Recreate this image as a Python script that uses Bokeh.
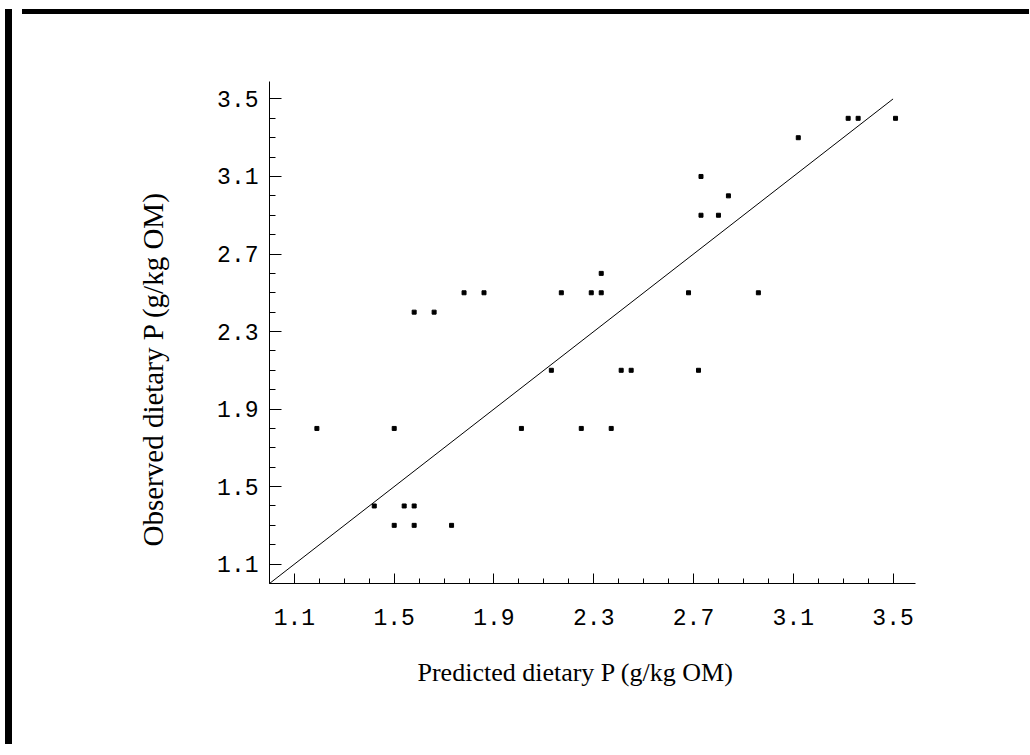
from bokeh.plotting import figure
from bokeh.models import FixedTicker, Range1d, Title, Div, Spacer
from bokeh.layouts import column, row
from bokeh.embed import file_html
from bokeh.resources import INLINE

# ---- data ----
predicted = [1.19, 1.42, 1.50, 1.50, 1.54, 1.58, 1.58, 1.58, 1.66, 1.73,
             1.78, 1.86, 2.01, 2.13, 2.17, 2.25, 2.29, 2.33, 2.33, 2.37,
             2.41, 2.45, 2.68, 2.72, 2.73, 2.73, 2.80, 2.84, 2.96, 3.12,
             3.32, 3.36, 3.51]
observed = [1.8, 1.4, 1.8, 1.3, 1.4, 1.4, 1.3, 2.4, 2.4, 1.3,
            2.5, 2.5, 1.8, 2.1, 2.5, 1.8, 2.5, 2.5, 2.6, 1.8,
            2.1, 2.1, 2.5, 2.1, 3.1, 2.9, 2.9, 3.0, 2.5, 3.3,
            3.4, 3.4, 3.4]
line_x = [1.0, 3.5]
line_y = [1.0, 3.5]
major_ticks = [1.1, 1.5, 1.9, 2.3, 2.7, 3.1, 3.5]
minor_ticks = [1.0, 1.1, 1.2, 1.3, 1.4, 1.5, 1.6, 1.7, 1.8, 1.9, 2.0, 2.1, 2.2,
               2.3, 2.4, 2.5, 2.6, 2.7, 2.8, 2.9, 3.0, 3.1, 3.2, 3.3, 3.4, 3.5]
x_title = "Predicted dietary P (g/kg OM)"
y_title = "Observed dietary  P (g/kg OM)"

p = figure(output_backend="svg", toolbar_location=None,
           x_range=Range1d(1.0, 3.59), y_range=Range1d(1.0, 3.59),
           frame_width=646, frame_height=502,
           min_border_left=252, min_border_top=62,
           min_border_right=109, min_border_bottom=166)
p.outline_line_color = None
p.xgrid.grid_line_color = None
p.ygrid.grid_line_color = None
p.background_fill_color = "white"
p.border_fill_color = "white"

p.line(line_x, line_y, line_color="black", line_width=1)
p.scatter(predicted, observed, marker="square", size=4, fill_color="black",
          line_color="black")

for ax, tin, minin, standoff in ((p.xaxis[0], 10, 5, 25), (p.yaxis[0], 12, 6, 11)):
    ax.ticker = FixedTicker(ticks=major_ticks, minor_ticks=minor_ticks)
    ax.major_tick_in = tin
    ax.major_tick_out = 0
    ax.minor_tick_in = minin
    ax.minor_tick_out = 0
    ax.axis_line_color = "black"
    ax.major_tick_line_color = "black"
    ax.minor_tick_line_color = "black"
    ax.major_label_text_font = "Liberation Mono"
    ax.major_label_text_font_size = "23px"
    ax.major_label_text_color = "black"
    ax.major_label_standoff = standoff

p.add_layout(Title(text=x_title, align="left", offset=148, vertical_align="top",
                   standoff=60, text_font="Liberation Serif", text_font_size="26px",
                   text_font_style="normal", text_color="black"), "below")
p.add_layout(Title(text=y_title, align="left", offset=37, vertical_align="bottom",
                   standoff=92, text_font="Liberation Serif", text_font_size="29px",
                   text_font_style="normal", text_color="black"), "left")

left_bar = Div(text="", width=7, height=735, styles={"background-color": "black"})
top_bar = Div(text="", width=1007, height=5, styles={"background-color": "black"})
layout = column(Spacer(width=10, height=4), row(left_bar, column(top_bar, p)))

open("out.html", "w").write(file_html(layout, INLINE))
